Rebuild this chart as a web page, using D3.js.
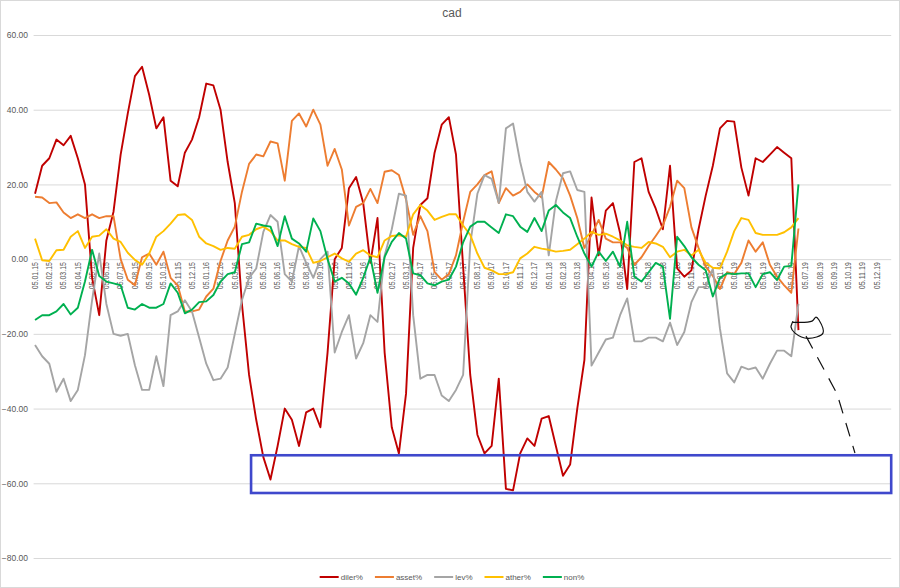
<!DOCTYPE html>
<meta charset='utf-8'>
<style>
	body { margin: 0; background: #fff; }
	#container { width: 900px; height: 588px; }
</style>
<body>
	<div id='container'></div>
<script src='https://d3js.org/d3.v7.min.js'></script>
<script>
	// tick labels of the date axis, one per month
	const monthLabels = [
		'05.01.15', '05.02.15', '05.03.15', '05.04.15', '05.05.15', '05.06.15', '05.07.15', '05.08.15', '05.09.15', '05.10.15', '05.11.15', '05.12.15',
		'05.01.16', '05.02.16', '05.03.16', '05.04.16', '05.05.16', '05.06.16', '05.07.16', '05.08.16', '05.09.16', '05.10.16', '05.11.16', '05.12.16',
		'05.01.17', '05.02.17', '05.03.17', '05.04.17', '05.05.17', '05.06.17', '05.07.17', '05.08.17', '05.09.17', '05.10.17', '05.11.17', '05.12.17',
		'05.01.18', '05.02.18', '05.03.18', '05.04.18', '05.05.18', '05.06.18', '05.07.18', '05.08.18', '05.09.18', '05.10.18', '05.11.18', '05.12.18',
		'05.01.19', '05.02.19', '05.03.19', '05.04.19', '05.05.19', '05.06.19', '05.07.19', '05.08.19', '05.09.19', '05.10.19', '05.11.19', '05.12.19',
	];

	const seriesNames = [ 'diler%', 'asset%', 'lev%', 'ather%', 'non%' ];

	// values read every half month, starting at 05.01.15
	const dilerValues = [
		17.5, 25, 27, 32, 30.5, 33, 27, 20, -5, -15,
		5, 12.7, 28, 39, 49, 51.5, 44, 35, 38, 21,
		19.5, 28.5, 32, 38, 47, 46.5, 40, 26, 15, -12,
		-31, -43, -53, -59, -50, -40, -43, -50, -41, -40,
		-45, -25, 0, 3, 19, 22, 15, -1, 11, -25,
		-45, -52, -36, 3, 14.5, 16.3, 28.5, 36, 38, 28,
		-2, -31, -47, -52, -50, -32, -61.5, -61.9, -52, -48,
		-50, -42.7, -42, -50, -58, -55, -40, -27, 16.5, 1,
		13, 15, 7, -8, 26, 27, 18, 13.5, 8, 25,
		-2.5, -4.7, -3, 8, 17, 25, 35, 37, 36.8, 24.5,
		17, 27, 26, 28, 30, 28.5, 27, -19,
	];
	const assetValues = [
		16.7, 16.5, 15, 15.2, 12.5, 11, 12, 11, 12, 11,
		11.5, 11.5, 0, -5.5, -7, 0.5, 1.5, -1.5, 2, -5,
		-7, -14, -14, -13.5, -10, -7.9, -0.5, 5, 8.7, 18,
		25.5, 28, 27.5, 31.5, 31, 21, 37, 39, 35.5, 40,
		36, 25, 29.5, 24, 9, 14, 15, 18.8, 15, 23.4,
		23.8, 22.5, 16, 6.5, 11.5, 7.5, -3.5, -5.5, -4, 1,
		10, 18, 20, 22.5, 23.5, 15, 19, 17, 18, 20,
		18, 16.5, 26, 24, 21.6, 17, 11, 3, 6.5, 10.5,
		5.5, 4.5, 4.5, 3, -1.5, 0.5, 3.5, 6.2, 9, 14,
		21, 19, 8.5, 3, -2, -4.5, -8, -3.5, -4, -1,
		5, 2, 4.5, -1.5, -4.7, -7, -9, 8.2,
	];
	const levValues = [
		-23, -26, -28, -35.5, -32, -38, -35, -25.7, -11, 1.5,
		-12, -20, -20.5, -20, -28.4, -35, -35, -26, -34, -15,
		-14, -11, -14, -21, -28, -32.4, -32, -29, -20, -11,
		-5, -2.5, 7.3, 11.8, 10, -4, -6, 3.5, -1, -5,
		0, 2, -25, -19.5, -15, -26.6, -22.5, -15, -16.8, 1,
		8, 17.5, 17, -15, -32, -31, -31, -36.5, -38, -35,
		-31, 4, 17.5, 22.5, 21.5, 15, 35, 36.3, 26, 18,
		15.4, 18, 1, 15.5, 23, 23.5, 18.5, 18, -28.5, -25,
		-21.5, -21, -15, -10.5, -22, -22, -21, -21, -22, -17,
		-23, -19.5, -11.5, -7.5, -7.5, -2.5, -18.6, -30.6, -33, -28.8,
		-29.5, -29, -32, -28, -24.5, -24.5, -26, -12,
	];
	const atherValues = [
		5.5, -0.3, -0.5, 2.4, 2.5, 6, 7.5, 3, 6, 6.3,
		8, 5.5, 4.6, 1.7, -0.2, -1.5, 1.5, 6, 7.5, 9.5,
		11.8, 12, 10.5, 6, 4.2, 3.5, 2.5, 3, 2.8, 6,
		6.5, 8, 8.7, 7.5, 5, 5, 4, 3.3, 3, -1,
		-0.5, 0.5, 1.5, 0.2, -0.7, 1.5, 2.4, 1, 0.5, 5,
		6.2, 6.4, 6, 12, 14.5, 13, 10.5, 11.3, 12, 12,
		9, 6.5, 1.5, -2.3, -3, -4, -4, -3.5, 0.2, 1.5,
		3.3, 2.8, 2.5, 2, 2.2, 2.5, 4, 5.5, 7.3, 6.5,
		6.8, 6, 5, 3.7, 3.3, 3, 4.6, 4.2, 3.3, 0.5,
		2, 2.5, 1, 2.5, -1, -2.3, -2.5, 2, 7.5, 11,
		10.5, 7, 6.5, 6.5, 6.5, 7.2, 8.5, 11,
	];
	const nonValues = [
		-16.3, -15, -15, -14, -12, -14.8, -13, -6, 2.5, -4.5,
		-6, -6.5, -7, -13, -13.5, -12, -13, -13, -12, -6.5,
		-9, -14.5, -13.5, -11.5, -11.3, -9.6, -6, -4, -3.5, 4,
		4.5, 9.5, 9, 8.7, 3.5, 11.5, 5.5, 4.2, 2, 10.9,
		7.5, 0, -6, -5, -6.5, -9.5, -5, 0.5, -9, 0.6,
		4.6, 7, 5.5, -3.8, -4.3, -6.5, -7, -6, -5.5, -2,
		4.5, 8.7, 10, 10, 8.5, 7, 12, 11.5, 8.7, 7.3,
		11, 7.5, 13, 14.5, 12.5, 11, 6, 1.5, -2, 2,
		-0.5, 2, -2, 10, -4.7, -6, -3.5, -1, -2, -16,
		6, 3.5, 0.5, -1.5, -3, -10, -5, -3.8, -4, -3.8,
		-3.8, -7.5, -4, -3.5, -5.6, -2, -1.8, 20,
	];

	const yTicks = [ -80, -60, -40, -20, 0, 20, 40, 60 ];

	// hand-drawn marks laid over the chart, in month / value units
	const boxNote = { from: 15.14, to: 60, top: -52.5, bottom: -62.6 };
	const loopNote = [
		[ 53.12, -16.9 ], [ 54.45, -16.6 ], [ 54.73, -15.5 ], [ 54.94, -16.3 ], [ 55.22, -19.8 ],
		[ 54.17, -21.2 ], [ 53.26, -19.8 ], [ 52.98, -18.2 ], [ 53.12, -16.6 ],
	];
	const arrowNote = [ [ 54.03, -20.6 ], [ 56.2, -36 ], [ 57.46, -51.9 ] ];

	const width = 900, height = 588,
		step = 0.5,
		textColor = '#595959',
		gridColor = '#d9d9d9',
		font = 'Liberation Sans, Arial, sans-serif';

	const colors = d3.scaleOrdinal()
		.domain( seriesNames )
		.range( [ '#c00000', '#ed7d31', '#a5a5a5', '#ffc000', '#00b050' ] );

	const lineData = [ dilerValues, assetValues, levValues, atherValues, nonValues ]
		.map( ( values, i ) => ( { name: seriesNames[ i ], data: values } ) );

	let xScale = d3.scaleLinear()
		.domain( [ -0.1, 60 ] )
		.range( [ 33.6, 891.2 ] );
	let yScale = d3.scaleLinear()
		.domain( [ -80, 60 ] )
		.range( [ 558, 35 ] );

	let svg = d3.select( '#container' )
		.append( 'svg' )
		.attr( 'width', width )
		.attr( 'height', height )
		.style( 'font-family', font );

	svg.append( 'rect' )
		.attr( 'x', 0.5 ).attr( 'y', 0.5 )
		.attr( 'width', width - 1 ).attr( 'height', height - 1 )
		.style( 'fill', '#fff' )
		.style( 'stroke', gridColor );

	// Title
	svg.append( 'text' )
		.attr( 'x', 452 )
		.attr( 'y', 17 )
		.style( 'text-anchor', 'middle' )
		.style( 'font-size', '12px' )
		.style( 'fill', textColor )
		.text( 'cad' );

	// Gridlines + value labels
	let yAxis = d3.axisLeft( yScale )
		.tickValues( yTicks )
		.tickSize( -( xScale.range()[1] - xScale.range()[0] ) )
		.tickPadding( 6 )
		.tickFormat( d3.format( '.2f' ) );

	let yAxisEl = svg.append( 'g' )
		.attr( 'class', 'y axis' )
		.attr( 'transform', `translate( ${xScale.range()[0]}, 0 )` )
		.call( yAxis );
	yAxisEl.select( '.domain' ).remove();
	yAxisEl.selectAll( 'line' )
		.style( 'stroke', gridColor )
		.style( 'stroke-width', 1 );
	yAxisEl.selectAll( 'text' )
		.attr( 'x', 28 - xScale.range()[0] )
		.style( 'font-family', font )
		.style( 'font-size', '8.5px' )
		.style( 'fill', textColor );

	// Date labels hang under the zero line
	let xLabels = svg.append( 'g' )
		.attr( 'class', 'x axis' )
		.selectAll( 'text' )
		.data( monthLabels )
		.enter().append( 'text' )
			.attr( 'transform', ( d, i ) => `translate( ${xScale( i )}, ${yScale( 0 ) + 3} ) rotate( -90 )` )
			.attr( 'dy', '0.33em' )
			.attr( 'textLength', 27 )
			.attr( 'lengthAdjust', 'spacingAndGlyphs' )
			.style( 'text-anchor', 'end' )
			.style( 'font-size', '8.5px' )
			.style( 'fill', textColor )
			.text( d => d );

	// Series
	let seriesLine = d3.line()
		.x( ( d, i ) => xScale( i * step ) )
		.y( d => yScale( d ) );

	svg.append( 'g' )
		.attr( 'class', 'lines' )
		.selectAll( '.line' )
		.data( lineData, d => d.name )
		.enter().append( 'path' )
			.attr( 'class', 'line' )
			.style( 'stroke', d => colors( d.name ) )
			.style( 'stroke-width', 1.9 )
			.style( 'stroke-linejoin', 'round' )
			.style( 'fill', 'none' )
			.attr( 'd', d => seriesLine( d.data ) );

	// Annotations
	let notes = svg.append( 'g' ).attr( 'class', 'notes' );

	notes.append( 'rect' )
		.attr( 'x', xScale( boxNote.from ) )
		.attr( 'y', yScale( boxNote.top ) )
		.attr( 'width', xScale( boxNote.to ) - xScale( boxNote.from ) )
		.attr( 'height', yScale( boxNote.bottom ) - yScale( boxNote.top ) )
		.style( 'fill', 'none' )
		.style( 'stroke', '#3f48cc' )
		.style( 'stroke-width', 2.6 );

	let noteLine = d3.line()
		.x( d => xScale( d[0] ) )
		.y( d => yScale( d[1] ) );

	notes.append( 'path' )
		.attr( 'd', noteLine.curve( d3.curveCatmullRom )( loopNote ) )
		.style( 'fill', 'none' )
		.style( 'stroke', '#111' )
		.style( 'stroke-width', 1.2 );

	notes.append( 'path' )
		.attr( 'd', noteLine.curve( d3.curveLinear )( arrowNote ) )
		.style( 'fill', 'none' )
		.style( 'stroke', '#111' )
		.style( 'stroke-width', 1.2 )
		.style( 'stroke-dasharray', '14 10' );

	// Legend
	let legendHolder = svg.append( 'g' )
		.attr( 'class', 'legend-holder' );

	let legend = legendHolder.selectAll( '.legend' )
		.data( lineData )
		.enter().append( 'g' )
			.attr( 'class', 'legend' );

	legend.append( 'line' )
		.attr( 'x1', 0 ).attr( 'x2', 19 )
		.attr( 'y1', 0 ).attr( 'y2', 0 )
		.style( 'stroke', d => colors( d.name ) )
		.style( 'stroke-width', 2 );

	legend.append( 'text' )
		.attr( 'x', 21 )
		.attr( 'dy', '.35em' )
		.style( 'font-size', '8px' )
		.style( 'fill', textColor )
		.text( d => d.name );

	let widthSums = 0;
	legend.attr( 'transform', function() {
		let value = widthSums;
		widthSums += this.getBBox().width + 12;
		return `translate( ${value}, 0 )`;
	} );
	let legendWidth = legendHolder.node().getBBox().width;
	legendHolder.attr( 'transform', `translate( ${452 - legendWidth / 2}, 577 )` );
</script>
</body>
